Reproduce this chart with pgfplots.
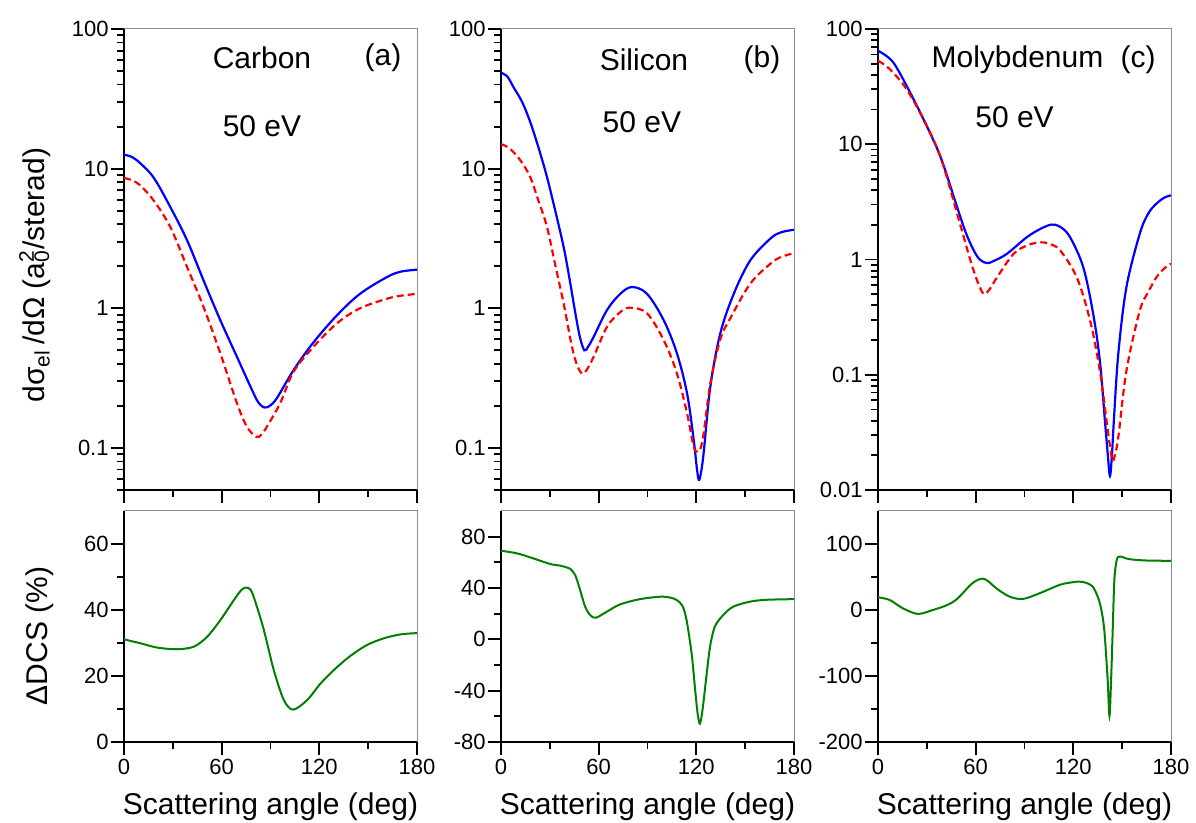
\documentclass[border=0pt]{standalone}
\usepackage{pgfplots}
\pgfplotsset{compat=1.18}
\usepackage{fontspec}
\setmainfont{Liberation Sans}
\definecolor{cblue}{RGB}{0,0,255}
\definecolor{cred}{RGB}{255,0,0}
\definecolor{cgreen}{RGB}{0,128,0}
\tikzset{ann/.style={font=\fontsize{15}{18}\selectfont}}
\pgfplotsset{
 myBase/.style={
  scale only axis, width=146.5pt, anchor=south west,
  axis lines=left, axis line style={-, line width=0.9pt, black},
  tick align=outside, tick style={line width=0.9pt, black},
  major tick length=6.5pt, minor tick length=3.5pt,
  xmin=0, xmax=180, xtick={0,60,120,180}, minor xtick={30,90,150},
  tick label style={font=\fontsize{11}{13}\selectfont},
  /pgf/number format/assume math mode=true,
  yticklabel style={inner sep=1pt},
  xticklabel style={inner sep=2pt},
  after end axis/.code={\draw[black!45, line width=0.5pt] (rel axis cs:0,1)--(rel axis cs:1,1)--(rel axis cs:1,0);},
 },
 myTop/.style={myBase, height=230.5pt, xticklabels={}},
 myBot/.style={myBase, height=115.5pt, xlabel={Scattering angle (deg)},
   every axis x label/.style={at={(axis description cs:0.5,-0.316)}, anchor=base, font=\fontsize{15}{18}\selectfont},
 },
 bl/.style={cblue, line width=1.1pt, smooth, tension=0.55},
 rd/.style={cred, line width=1.1pt, dash pattern=on 3.5pt off 2pt, smooth, tension=0.55},
 gr/.style={cgreen, line width=1.0pt, smooth, tension=0.5},
}
\begin{document}
\begin{tikzpicture}
\useasboundingbox (0,0) rectangle (598pt,411.5pt);
% ---------------- (a) top
\begin{axis}[myTop, ymode=log, at={(62pt,166.5pt)}, ymin=0.05, ymax=100,
  ytick={0.1,1,10,100}, yticklabels={0.1,1,10,100},
  minor ytick={0.05,0.06,0.07,0.08,0.09,0.2,0.3,0.4,0.5,0.6,0.7,0.8,0.9,2,3,4,5,6,7,8,9,20,30,40,50,60,70,80,90},
  ylabel={dσ\textsubscript{el}\,/dΩ (a\rlap{\textsuperscript{2}}\textsubscript{0}/sterad)},
  every axis y label/.style={at={(axis description cs:-0.304,0.466)}, rotate=90, anchor=center, font=\fontsize{15}{18}\selectfont}]
\addplot[bl] coordinates {(0,12.6)(5,12.1)(10.1,10.9)(18.3,8.6)(28.5,5.3)(38.8,3.06)(48.9,1.58)(59.2,0.82)(69.4,0.449)(79.6,0.246)(83,0.208)(86.2,0.195)(89.5,0.2)(94,0.228)(104.1,0.36)(116.4,0.57)(130.8,0.89)(145,1.27)(161.4,1.67)(170,1.83)(180,1.89)};
\addplot[rd] coordinates {(0,8.58)(5,8.25)(10.1,7.56)(18.3,5.9)(28.5,3.81)(38.8,1.97)(48.9,1.02)(59.2,0.475)(69.4,0.209)(75.5,0.142)(81.2,0.12)(84.5,0.125)(87.8,0.142)(96,0.21)(104.1,0.35)(116.4,0.53)(130.8,0.78)(145,1.0)(161.4,1.17)(170,1.23)(180,1.27)};
\node[ann] at (axis description cs:0.471,0.937) {Carbon};
\node[ann] at (axis description cs:0.884,0.937) {(a)};
\node[ann] at (axis description cs:0.471,0.79) {50 eV};
\end{axis}
% ---------------- (b) top
\begin{axis}[myTop, ymode=log, at={(250.5pt,166.5pt)}, ymin=0.05, ymax=100,
  ytick={0.1,1,10,100}, yticklabels={0.1,1,10,100},
  minor ytick={0.05,0.06,0.07,0.08,0.09,0.2,0.3,0.4,0.5,0.6,0.7,0.8,0.9,2,3,4,5,6,7,8,9,20,30,40,50,60,70,80,90}]
\addplot[bl] coordinates {(0,48.7)(4,45.5)(7.8,38.1)(13,30)(18,21.5)(23,14.2)(28.3,8.67)(33.5,4.9)(38.5,2.74)(42,1.65)(45.7,0.92)(48.5,0.62)(51.2,0.50)(53.5,0.53)(56.9,0.624)(65.1,0.97)(73.3,1.27)(80.5,1.42)(89.7,1.27)(100,0.82)(108.1,0.475)(114.3,0.246)(118.4,0.114)(120.3,0.072)(121.5,0.059)(122.7,0.065)(124.5,0.092)(128.6,0.274)(134.7,0.66)(143,1.27)(153.1,2.2)(165.4,3.15)(172,3.5)(180,3.65)};
\addplot[rd] coordinates {(0,15.0)(4,14.3)(7.8,13.1)(13,11)(18,8.67)(23,5.9)(28.3,3.81)(33.5,2.0)(38.5,1.08)(43.6,0.53)(46.8,0.39)(49.8,0.341)(52.5,0.36)(56.9,0.449)(65.1,0.736)(73.3,0.94)(79.4,1.01)(89.7,0.92)(100,0.59)(108.1,0.341)(114.3,0.177)(118.4,0.102)(121,0.094)(122.7,0.1)(124.5,0.127)(128.6,0.29)(134.7,0.6)(140.9,0.85)(153.1,1.5)(165.4,2.08)(172,2.33)(180,2.48)};
\node[ann] at (axis description cs:0.488,0.933) {Silicon};
\node[ann] at (axis description cs:0.891,0.933) {(b)};
\node[ann] at (axis description cs:0.481,0.798) {50 eV};
\end{axis}
% ---------------- (c) top
\begin{axis}[myTop, ymode=log, at={(439pt,166.5pt)}, ymin=0.01, ymax=100,
  ytick={0.01,0.1,1,10,100}, yticklabels={0.01,0.1,1,10,100},
  minor ytick={0.02,0.03,0.04,0.05,0.06,0.07,0.08,0.09,0.2,0.3,0.4,0.5,0.6,0.7,0.8,0.9,2,3,4,5,6,7,8,9,20,30,40,50,60,70,80,90}]
\addplot[bl] coordinates {(0,64.7)(4,60)(9.8,50.3)(17.9,31.5)(28.2,16.2)(38.4,7.76)(48.6,2.85)(54,1.7)(58.8,1.2)(62.5,1.0)(66.9,0.93)(71,0.97)(79.2,1.12)(91.4,1.56)(100,1.85)(106.7,2.01)(112,1.92)(118,1.56)(126.1,0.857)(132.2,0.337)(136.3,0.132)(139.4,0.04)(141.2,0.02)(142.5,0.0132)(143.7,0.02)(144.9,0.04)(147.6,0.151)(152.6,0.574)(160.8,1.67)(166,2.5)(171,3.05)(176,3.45)(180,3.6)};
\addplot[rd] coordinates {(0,53)(4,49)(9.8,41.2)(17.9,29.5)(28.2,16.2)(38.4,7.76)(48.6,2.5)(52.5,1.6)(56.8,0.98)(61,0.65)(64.9,0.503)(68.5,0.55)(73.1,0.70)(83.3,1.12)(92,1.33)(99.6,1.41)(105,1.37)(111.9,1.2)(122.1,0.70)(130.3,0.295)(136.3,0.108)(140.4,0.04)(142.5,0.024)(144.1,0.0179)(145.5,0.02)(147.6,0.0285)(152.6,0.108)(160.8,0.36)(166,0.52)(171,0.70)(176,0.84)(180,0.92)};
\node[ann] at (axis description cs:0.476,0.933) {Molybdenum};
\node[ann] at (axis description cs:0.888,0.933) {(c)};
\node[ann] at (axis description cs:0.466,0.809) {50 eV};
\end{axis}
% ---------------- (a) bottom
\begin{axis}[myBot, at={(62pt,40.5pt)}, ymin=0, ymax=70,
  ytick={0,20,40,60}, minor ytick={10,30,50},
  ylabel={ΔDCS (\%)},
  every axis y label/.style={at={(axis description cs:-0.287,0.459)}, rotate=90, anchor=center, font=\fontsize{15}{18}\selectfont}]
\addplot[gr] coordinates {(0,31.1)(10.2,29.9)(20.5,28.6)(32.7,28.1)(43,28.9)(51.1,31.9)(59.3,37)(67.5,43)(72,46)(75,46.8)(78,46)(81,42)(85.9,34)(92,21.8)(98.2,12.7)(103.9,9.8)(112.5,12.7)(120.7,17.7)(128.9,21.8)(139.1,26.1)(149.3,29.4)(159.5,31.4)(169.8,32.6)(180,33)};
\end{axis}
% ---------------- (b) bottom
\begin{axis}[myBot, at={(250.5pt,40.5pt)}, ymin=-80, ymax=100,
  ytick={-80,-40,0,40,80}, minor ytick={-60,-20,20,60}]
\addplot[gr] coordinates {(0,69)(9.8,67)(20,63)(30.2,58.7)(36,57.5)(40.5,56)(42.5,55)(45.6,50)(48.6,38.4)(51.7,25.4)(54.8,18.9)(58.2,16.8)(65,21.5)(73.1,27.2)(85.4,31.3)(97.7,33.2)(104,32.5)(108,30.6)(111.5,26)(114,15)(117.1,-11)(119.1,-37)(120.8,-58)(122.2,-65.7)(123.8,-55)(125.9,-32)(128.4,-6)(131.4,10)(136.5,18.9)(142.6,25.4)(152.8,29.3)(163,30.8)(180,31.3)};
\end{axis}
% ---------------- (c) bottom
\begin{axis}[myBot, at={(439pt,40.5pt)}, ymin=-200, ymax=150,
  ytick={-200,-100,0,100}, minor ytick={-150,-50,50}]
\addplot[gr] coordinates {(0,19.3)(7.2,15.2)(15.3,2.5)(24.5,-6)(33.7,0)(41,6)(46,12)(50.1,20.3)(56.2,36.5)(60,44)(64.4,47.6)(68,43)(72.6,33)(80.8,20.3)(89,16.7)(99.2,25.3)(111.5,38)(118,41.5)(123.7,43)(128,41)(131.9,35.5)(135,20)(137,2.5)(139,-30)(141.1,-106)(142.2,-161)(143.2,-106)(144.2,-30)(145.2,45.6)(146.7,76)(148.7,81)(154.4,77)(164.7,75)(180,74.5)};
\end{axis}
\end{tikzpicture}
\end{document}
